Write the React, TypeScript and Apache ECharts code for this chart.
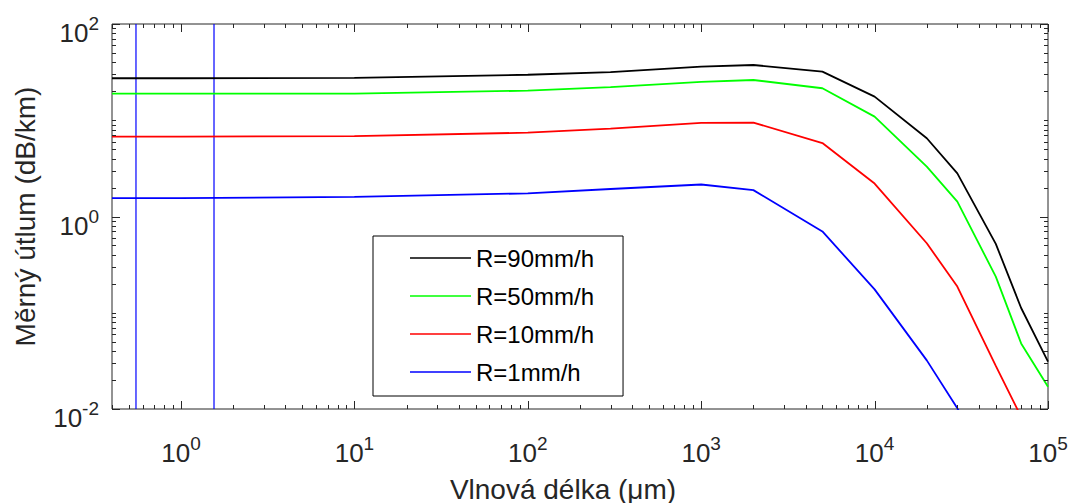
import React, { useEffect, useRef } from 'react';
import * as echarts from 'echarts';

// wavelength (µm)
const wavelengths = [0.4, 1, 10, 100, 300, 1000, 2000, 5000, 10000, 20000, 30000, 50000, 70000, 100000];
// specific attenuation (dB/km)
const r90 = [27.3, 27.3, 27.6, 29.7, 31.6, 36, 37.5, 32, 17.6, 6.5, 2.81, 0.52, 0.112, 0.031];
const r50 = [18.9, 18.9, 18.9, 20.3, 22.1, 25.1, 26.2, 21.5, 10.9, 3.3, 1.43, 0.237, 0.048, 0.017];
const r10 = [6.75, 6.75, 6.85, 7.43, 8.2, 9.4, 9.45, 5.8, 2.2, 0.527, 0.187, 0.028, 0.0083, 0.0025];
const r1 = [1.55, 1.55, 1.6, 1.74, 1.93, 2.15, 1.88, 0.7, 0.175, 0.032, 0.0102, 0.0015, 0.0005, 0.0002];

const seriesNames = ['R=90mm/h', 'R=50mm/h', 'R=10mm/h', 'R=1mm/h'];
const seriesValues = [r90, r50, r10, r1];
const seriesColors = ['#000000', '#00ff00', '#ff0000', '#0000ff'];

// vertical marker lines (µm)
const markerWavelengths = [0.55, 1.55];

const xRange = [0.4, 100000];
const yRange = [0.01, 100];
const xMajorExponents = [0, 1, 2, 3, 4, 5];
const yMajorExponents = [-2, 0, 2];

const xTitle = 'Vlnová délka (μm)';
const yTitle = 'Měrný útlum (dB/km)';

const FONT = "'Liberation Sans', Arial, Helvetica, sans-serif";
const AXIS_COLOR = '#262626';

function exponentOf(v: number): number | null {
  const l = Math.log10(v);
  const e = Math.round(l);
  return Math.abs(l - e) < 1e-6 ? e : null;
}

function buildMinorTicks(lo: number, hi: number, majors: number[]): number[] {
  const out: number[] = [];
  for (let n = Math.floor(Math.log10(lo)); n <= Math.ceil(Math.log10(hi)); n++) {
    for (let k = 1; k <= 9; k++) {
      const v = k * Math.pow(10, n);
      if (v < lo * 0.9999 || v > hi * 1.0001) continue;
      if (k === 1 && majors.indexOf(n) >= 0) continue;
      out.push(v);
    }
  }
  return out;
}

const supRich = {
  b: { fontSize: 26, fontFamily: FONT, color: AXIS_COLOR, lineHeight: 32, verticalAlign: 'bottom' },
  s: { fontSize: 19, fontFamily: FONT, color: AXIS_COLOR, lineHeight: 20, verticalAlign: 'top' },
};

export default function App() {
  const ref = useRef<HTMLDivElement>(null);

  useEffect(() => {
    if (!ref.current) return;
    const chart = echarts.init(ref.current, undefined, { renderer: 'svg' });

    const xMinor = buildMinorTicks(xRange[0], xRange[1], xMajorExponents);
    const yMinor = buildMinorTicks(yRange[0], yRange[1], yMajorExponents);
    const xMajor = xMajorExponents.map((e) => Math.pow(10, e));
    const yMajor = yMajorExponents.map((e) => Math.pow(10, e));

    const tickSeries = {
      type: 'custom',
      name: 'ticks',
      silent: true,
      clip: false,
      z: 5,
      data: [[1, 1]],
      renderItem: (params: any, api: any) => {
        const bl = api.coord([xRange[0], yRange[0]]);
        const tr = api.coord([xRange[1], yRange[1]]);
        const left = bl[0], bottom = bl[1], right = tr[0], top = tr[1];
        const children: any[] = [];
        const st = { stroke: AXIS_COLOR, lineWidth: 1 };
        const addX = (v: number, len: number) => {
          const x = Math.round(api.coord([v, yRange[0]])[0]) + 0.5;
          children.push({ type: 'line', shape: { x1: x, y1: bottom, x2: x, y2: bottom - len }, style: st });
          children.push({ type: 'line', shape: { x1: x, y1: top, x2: x, y2: top + len }, style: st });
        };
        const addY = (v: number, len: number) => {
          const y = Math.round(api.coord([xRange[0], v])[1]) + 0.5;
          children.push({ type: 'line', shape: { x1: left, y1: y, x2: left + len, y2: y }, style: st });
          children.push({ type: 'line', shape: { x1: right, y1: y, x2: right - len, y2: y }, style: st });
        };
        xMinor.forEach((v) => addX(v, 4));
        xMajor.forEach((v) => addX(v, 8));
        yMinor.forEach((v) => addY(v, 4));
        yMajor.forEach((v) => addY(v, 8));
        return { type: 'group', children };
      },
    };

    const curveSeries = seriesNames.map((name, i) => ({
      type: 'line',
      name,
      data: wavelengths.map((w, j) => [w, seriesValues[i][j]]),
      symbol: 'none',
      showSymbol: false,
      lineStyle: { color: seriesColors[i], width: 1.8 },
      itemStyle: { color: seriesColors[i] },
      clip: true,
      z: 3,
    }));

    const markerSeries = markerWavelengths.map((w, i) => ({
      type: 'line',
      name: 'marker' + i,
      data: [[w, yRange[0]], [w, yRange[1]]],
      symbol: 'none',
      showSymbol: false,
      lineStyle: { color: '#0000ff', width: 1.2 },
      itemStyle: { color: '#0000ff' },
      clip: true,
      z: 2,
    }));

    chart.setOption({
      animation: false,
      backgroundColor: '#ffffff',
      grid: {
        left: 112,
        top: 24,
        right: 30,
        bottom: 94,
        outerBoundsMode: 'none',
        containLabel: false,
        show: true,
        borderColor: AXIS_COLOR,
        borderWidth: 1,
        backgroundColor: '#ffffff',
      },
      xAxis: {
        type: 'log',
        logBase: 10,
        min: xRange[0],
        max: xRange[1],
        axisLine: { show: false },
        axisTick: { show: false },
        splitLine: { show: false },
        axisLabel: {
          margin: 25,
          formatter: (v: number) => {
            const e = exponentOf(v);
            return e === null ? '' : `{b|10}{s|${e}}`;
          },
          rich: supRich,
        },
        name: xTitle,
        nameLocation: 'middle',
        nameGap: 66,
        nameTextStyle: {
          fontSize: 28,
          lineHeight: 28,
          fontFamily: FONT,
          color: AXIS_COLOR,
          padding: [0, 34, 0, 0],
        },
      },
      yAxis: {
        type: 'log',
        logBase: 10,
        min: yRange[0],
        max: yRange[1],
        axisLine: { show: false },
        axisTick: { show: false },
        splitLine: { show: false },
        axisLabel: {
          margin: 13,
          padding: [12, 0, 0, 0],
          formatter: (v: number) => {
            const e = exponentOf(v);
            return e === null || yMajorExponents.indexOf(e) < 0 ? '' : `{b|10}{s|${e}}`;
          },
          rich: supRich,
        },
        name: yTitle,
        nameLocation: 'middle',
        nameGap: 73,
        nameRotate: 90,
        nameTextStyle: { fontSize: 28, fontFamily: FONT, color: AXIS_COLOR },
      },
      legend: {
        data: seriesNames.map((n) => ({ name: n, icon: 'rect' })),
        orient: 'vertical',
        left: 373,
        top: 236,
        backgroundColor: '#ffffff',
        borderColor: '#000000',
        borderWidth: 1,
        borderRadius: 0,
        padding: [8, 29, 10, 37],
        itemWidth: 61,
        itemHeight: 1.5,
        itemGap: 10,
        selectedMode: false,
        textStyle: { fontSize: 24, fontFamily: FONT, color: '#000000', lineHeight: 28 },
      },
      series: [...markerSeries, ...curveSeries, tickSeries],
    });

    return () => chart.dispose();
  }, []);

  return (
    <div
      ref={ref}
      style={{ position: 'absolute', left: 0, top: 0, width: 1078, height: 503, background: '#fff' }}
    />
  );
}
